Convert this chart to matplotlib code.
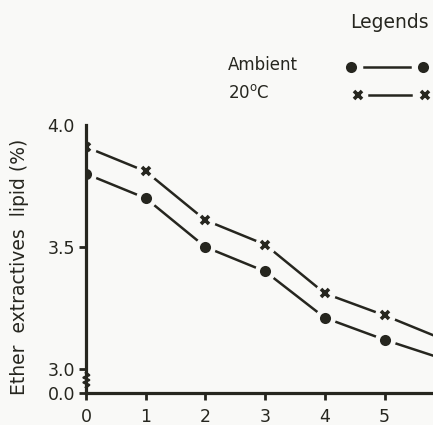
import matplotlib
matplotlib.use("Agg")
import matplotlib.pyplot as plt
from matplotlib.lines import Line2D

# ── Data ──────────────────────────────────────────────────────────────────────
days = [0, 1, 2, 3, 4, 5, 6]
lipid_dot = [3.80, 3.70, 3.50, 3.40, 3.21, 3.12, 3.04]     # ●——●
lipid_cross = [3.91, 3.81, 3.61, 3.51, 3.31, 3.22, 3.12]   # ×——×

x_ticks = [0, 1, 2, 3, 4, 5]
y_tick_labels = ["0.0", "3.0", "3.5", "4.0"]

INK = "#26261f"
PAPER = "#f9f9f7"

# broken y axis: 0.0 sits just below 3.0
Y_ZERO_POS = 2.902
y_tick_pos = [Y_ZERO_POS, 3.0, 3.5, 4.0]

fig = plt.figure(figsize=(4.33, 4.25), dpi=100)
fig.patch.set_facecolor(PAPER)
ax = fig.add_axes([86 / 433, 32 / 425, 1 - 86 / 433, 268 / 425])
ax.set_facecolor(PAPER)

ax.set_xlim(0, 5.81)
ax.set_ylim(Y_ZERO_POS, 4.0)


def draw_series(ys, marker, ms, mew):
    ax.plot(days, ys, color=INK, lw=1.8, zorder=3, clip_on=True,
            solid_capstyle="butt")
    # paper-coloured halo so segments stop short of the markers
    ax.plot(days, ys, linestyle="none", marker="o", markersize=14,
            markerfacecolor=PAPER, markeredgecolor=PAPER, zorder=4,
            clip_on=True)
    ax.plot(days, ys, linestyle="none", marker=marker, markersize=ms,
            markeredgewidth=mew, color=INK, zorder=5, clip_on=True)


draw_series(lipid_dot, "o", 8, 0)
draw_series(lipid_cross, "x", 6, 2.6)

for side in ("top", "right"):
    ax.spines[side].set_visible(False)
for side in ("left", "bottom"):
    ax.spines[side].set_linewidth(2.3)
    ax.spines[side].set_color(INK)
    ax.spines[side].set_zorder(6)

ax.set_xticks(x_ticks)
ax.set_xticklabels([str(t) for t in x_ticks])
ax.set_yticks(y_tick_pos)
ax.set_yticklabels(y_tick_labels)
ax.tick_params(axis="both", colors=INK, labelcolor=INK, labelsize=12.5,
               width=2.0, length=5, direction="out")
ax.tick_params(axis="x", pad=6)
ax.tick_params(axis="y", pad=3)
ax.yaxis.get_major_ticks()[3].tick1line.set_visible(False)

# axis break squiggle on the left spine
brk_x = [0.0, 0.009, -0.007, 0.009, -0.007, 0.009, 0.0]
brk_y = [2.985, 2.975, 2.965, 2.955, 2.945, 2.935, 2.925]
ax.plot(brk_x, brk_y, color=INK, lw=1.8, transform=ax.get_yaxis_transform(),
        clip_on=False, zorder=7)

ax.set_ylabel("Ether  extractives  lipid (%)", fontsize=13.5, color=INK)
ax.yaxis.set_label_coords(-0.165, 0.47)

# ── Legend block ──────────────────────────────────────────────────────────────
fig.text(389 / 433, 1 - 22 / 425, "Legends", fontsize=13.5, color=INK,
         ha="center", va="center")
fig.text(228 / 433, 1 - 65 / 425, "Ambient", fontsize=12, color=INK,
         ha="left", va="center")
fig.text(228 / 433, 1 - 93 / 425, "20$^{\\rm o}$C", fontsize=12,
         color=INK, ha="left", va="center")

for y_px, mk, ms, mew, x0, x1, s0, s1 in [
    (67, "o", 8, 0, 351, 423, 364, 410),
    (95, "x", 6, 2.6, 358, 425, 369, 411),
]:
    yf = 1 - y_px / 425
    fig.add_artist(Line2D([s0 / 433, s1 / 433], [yf, yf], color=INK,
                          lw=1.8, transform=fig.transFigure))
    fig.add_artist(Line2D([x0 / 433, x1 / 433], [yf, yf], marker=mk,
                          ms=ms, mew=mew, color=INK, linestyle="none",
                          transform=fig.transFigure))

fig.savefig("out.png", dpi=100, facecolor=PAPER)
